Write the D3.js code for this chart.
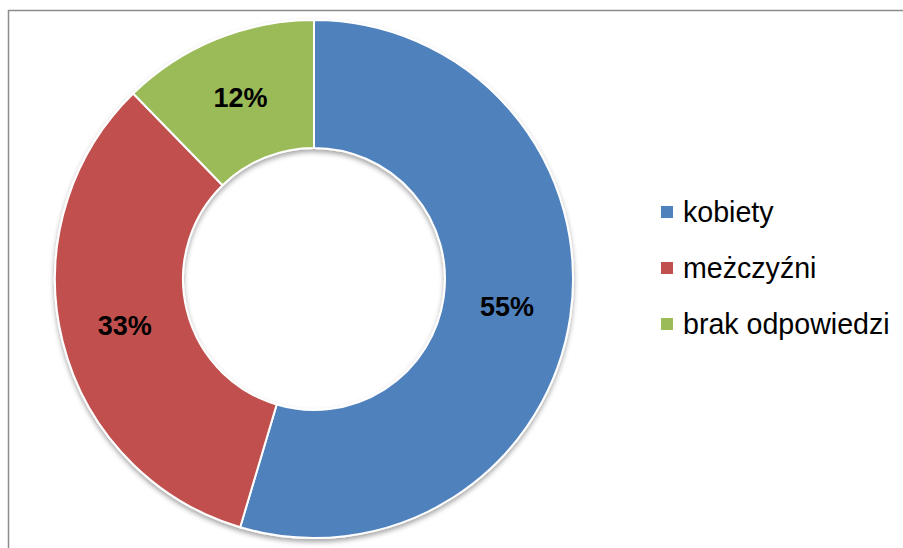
<!DOCTYPE html>
<html>
<head>
<meta charset="utf-8">
<script src="https://cdn.jsdelivr.net/npm/d3@7"></script>
<style>
  body { margin: 0; background: #fff; }
  text { font-family: "Liberation Sans", Arial, sans-serif; }
</style>
</head>
<body>
<svg width="903" height="548"></svg>
<script>
const categories = ["kobiety", "meżczyźni", "brak odpowiedzi"];
const values = [54.6, 33.1, 12.3];
const labels = ["55%", "33%", "12%"];
const colors = ["#4F81BD", "#C0504D", "#9BBB59"];

svg = d3.select("svg");

// outer frame of the chart area (runs off the page right and bottom)
svg.append("rect")
  .attr("x", 8.5).attr("y", 10.5)
  .attr("width", 1000).attr("height", 1000)
  .attr("fill", "none")
  .attr("stroke", "#8c8c8c")
  .attr("stroke-width", 1.5);

// soft shadow under the donut
defs = svg.append("defs");
defs.append("filter")
  .attr("id", "shadow")
  .attr("x", "-10%").attr("y", "-10%")
  .attr("width", "120%").attr("height", "120%")
  .append("feDropShadow")
  .attr("dx", 0).attr("dy", 3)
  .attr("stdDeviation", 2.5)
  .attr("flood-color", "#000")
  .attr("flood-opacity", 0.35);

cx = 314;
cy = 279;
outerR = 259;
innerR = 131;

pie = d3.pie().sort(null).value(function(d) {return d;});
arc = d3.arc().innerRadius(innerR).outerRadius(outerR);
arcs = pie(values);

g = svg.append("g")
  .attr("transform", "translate(" + cx + "," + cy + ")");

g.append("g")
  .attr("filter", "url(#shadow)")
  .selectAll("path")
  .data(arcs)
  .enter()
  .append("path")
  .attr("d", arc)
  .attr("fill", function(d, i) {return colors[i];})
  .attr("stroke", "#fff")
  .attr("stroke-width", 2);

// percent labels at the centre of each slice
g.selectAll("text.pct")
  .data(arcs)
  .enter()
  .append("text")
  .attr("class", "pct")
  .attr("transform", function(d) {return "translate(" + arc.centroid(d) + ")";})
  .attr("text-anchor", "middle")
  .attr("dy", "0.33em")
  .attr("font-size", 27)
  .attr("font-weight", "bold")
  .attr("fill", "#000")
  .text(function(d, i) {return labels[i];});

// legend
yLeg = d3.scalePoint().domain(categories).range([212, 324]);

leg = svg.append("g");
leg.selectAll("rect")
  .data(categories)
  .enter()
  .append("rect")
  .attr("x", 661)
  .attr("y", function(d) {return yLeg(d) - 6;})
  .attr("width", 12).attr("height", 12)
  .attr("fill", function(d, i) {return colors[i];});

leg.selectAll("text")
  .data(categories)
  .enter()
  .append("text")
  .attr("x", 683)
  .attr("y", function(d) {return yLeg(d);})
  .attr("dy", "0.36em")
  .attr("font-size", 28.6)
  .attr("fill", "#000")
  .text(function(d) {return d;});
</script>
</body>
</html>
